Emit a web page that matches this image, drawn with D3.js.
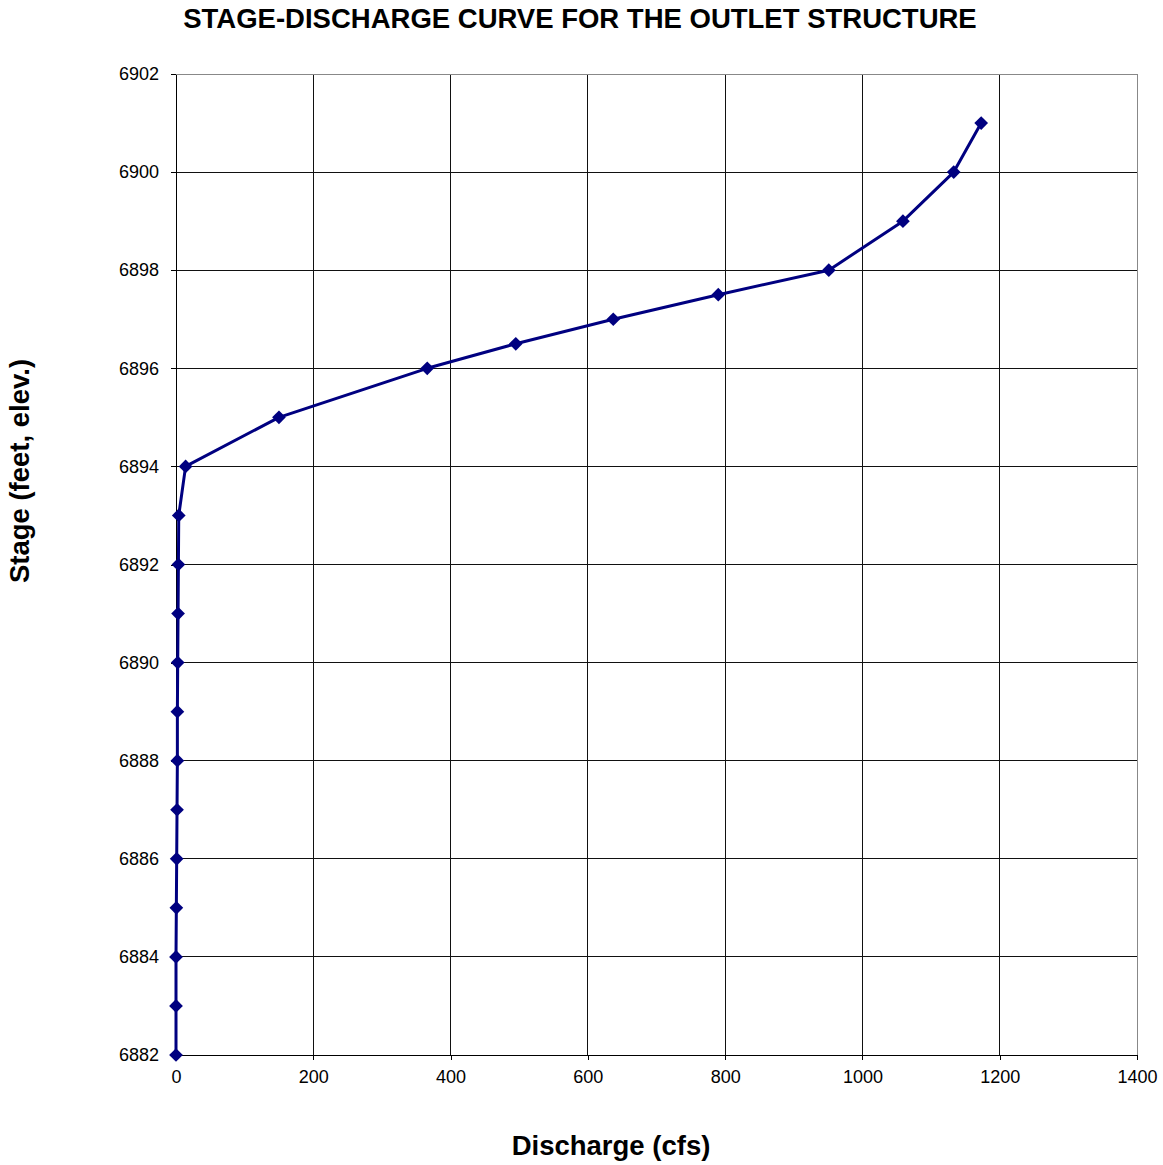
<!DOCTYPE html>
<html><head><meta charset="utf-8">
<script src="https://cdn.jsdelivr.net/npm/d3@7"></script>
<style>body{margin:0;background:#fff}svg{display:block}text{font-family:"Liberation Sans",Arial,sans-serif}</style>
</head><body><svg id="c" width="1163" height="1165"></svg>
<script>
const discharge = [0,0,0,0.5,1,1.5,2,2,2.5,3,3.5,4,14,150,366,495,637,790,951,1059,1133,1173];
const stage = [6882,6883,6884,6885,6886,6887,6888,6889,6890,6891,6892,6893,6894,6895,6896,6896.5,6897,6897.5,6898,6899,6900,6901];
const xTicks = [0,200,400,600,800,1000,1200,1400];
const yTicks = [6882,6884,6886,6888,6890,6892,6894,6896,6898,6900,6902];

const svg = d3.select("#c");
const L=176,R=1137,T=74,B=1055;
const x = d3.scaleLinear().domain([0,1400]).range([L,R]);
const y = d3.scaleLinear().domain([6882,6902]).range([B,T]);

const g = svg.append("g");
g.selectAll(".vg").data(xTicks.slice(1)).join("line")
 .attr("x1",d=>x(d)).attr("x2",d=>x(d)).attr("y1",T).attr("y2",B)
 .attr("stroke",d=>d===1400?"#888":"#111").attr("stroke-width",1).attr("shape-rendering","crispEdges");
g.selectAll(".hg").data(yTicks.slice(1)).join("line")
 .attr("x1",L).attr("x2",R).attr("y1",d=>y(d)).attr("y2",d=>y(d))
 .attr("stroke",d=>d===6902?"#888":"#111").attr("stroke-width",1).attr("shape-rendering","crispEdges");

const xa = svg.append("g").attr("transform",`translate(0,${B})`)
 .call(d3.axisBottom(x).tickValues(xTicks).tickFormat(d3.format("d")).tickSize(5).tickSizeOuter(0).tickPadding(8));
const ya = svg.append("g").attr("transform",`translate(${L},0)`)
 .call(d3.axisLeft(y).tickValues(yTicks).tickFormat(d3.format("d")).tickSize(5).tickSizeOuter(0).tickPadding(12));
[xa,ya].forEach(a=>{a.selectAll("path,line").attr("stroke","#000").attr("shape-rendering","crispEdges");
 a.selectAll("text").attr("font-size",18).attr("fill","#000").attr("font-family","'Liberation Sans',Arial,sans-serif");});
xa.selectAll("text").attr("dy","0.85em");

const pts = discharge.map((d,i)=>[d,stage[i]]);
svg.append("path").datum(pts).attr("fill","none").attr("stroke","#000080").attr("stroke-width",3)
 .attr("stroke-linejoin","round")
 .attr("d",d3.line().x(d=>x(d[0])).y(d=>y(d[1])));
svg.selectAll(".m").data(pts).join("path")
 .attr("transform",d=>`translate(${x(d[0])},${y(d[1])})`)
 .attr("d",d3.symbol(d3.symbolDiamond2,120)).attr("fill","#000080");

svg.append("text").attr("x",580).attr("y",28).attr("text-anchor","middle")
 .attr("font-size",27.5).attr("font-weight","bold").text("STAGE-DISCHARGE CURVE FOR THE OUTLET STRUCTURE");
svg.append("text").attr("x",611).attr("y",1155).attr("text-anchor","middle")
 .attr("font-size",27.5).attr("font-weight","bold").text("Discharge (cfs)");
svg.append("text").attr("transform","translate(29,471) rotate(-90)").attr("text-anchor","middle")
 .attr("font-size",27.5).attr("font-weight","bold").text("Stage (feet, elev.)");
</script></body></html>
